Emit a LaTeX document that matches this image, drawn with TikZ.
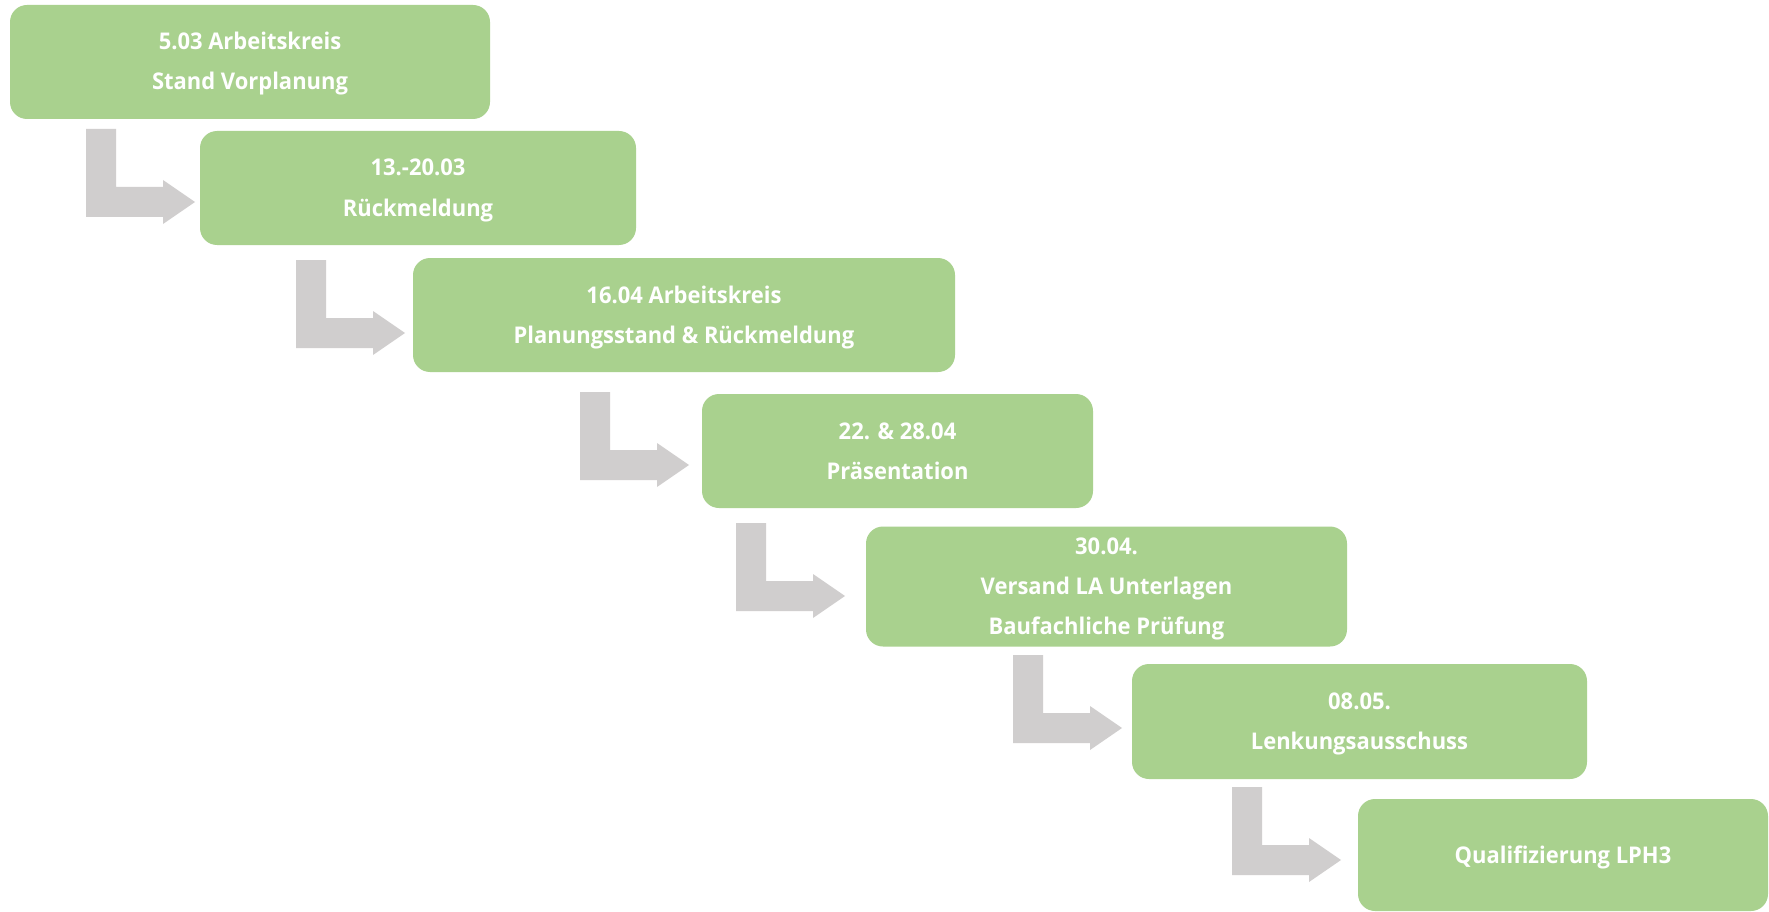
\documentclass[tikz,border=0pt]{standalone}
\usepackage{fontspec}
\setmainfont{Open Sans}[FakeStretch=0.955]
\definecolor{boxgreen}{HTML}{A9D18E}
\definecolor{arrowgray}{HTML}{D0CECE}
\newcommand{\tsTop}{\rule{0pt}{28pt}}
\newcommand{\tsBot}{\rule[-12pt]{0pt}{12pt}}
\tikzset{
  stepbox/.style={fill=boxgreen, rounded corners=17pt, inner sep=0pt, align=center,
    text=white, font=\fontsize{23}{40}\selectfont\bfseries},
  bentarrow/.style={fill=arrowgray}
}
\newcommand{\bentarrowpath}[1]{\fill[bentarrow] (#1) -- ++(30,0) -- ++(0,58) -- ++(47,0) -- ++(0,-7) -- ++(32,22) -- ++(-32,22) -- ++(0,-7) -- ++(-77,0) -- cycle;}
\begin{document}
\begin{tikzpicture}[x=1pt,y=-1pt]
\useasboundingbox (0,0) rectangle (1769,912);
\fill[white] (0,0) rectangle (1769,912);
\node[stepbox, minimum width=480pt, minimum height=114pt] (b1) at (250,62)
  {\tsTop 5.03 Arbeitskreis\\Stand Vorplanung\tsBot};
\node[stepbox, minimum width=436pt, minimum height=114pt] (b2) at (418,188)
  {\tsTop 13.-20.03\\Rückmeldung\tsBot};
\node[stepbox, minimum width=542pt, minimum height=114pt] (b3) at (684,315)
  {\tsTop 16.04 Arbeitskreis\\Planungsstand \& Rückmeldung\tsBot};
\node[stepbox, minimum width=391pt, minimum height=114pt] (b4) at (897.5,451)
  {\tsTop 22. \& 28.04\\Präsentation\tsBot};
\node[stepbox, minimum width=481pt, minimum height=115pt] (b5) at (1106.5,586.5)
  {\tsTop 30.04.\\Versand LA Unterlagen\\Baufachliche Prüfung\tsBot};
\node[stepbox, minimum width=455pt, minimum height=115pt] (b6) at (1359.5,721.5)
  {\tsTop 08.05.\\Lenkungsausschuss\tsBot};
\node[stepbox, minimum width=410pt, minimum height=112pt] (b7) at (1563,855)
  {\tsTop Qualifizierung LPH3\tsBot};
\coordinate (a1) at (86,129);
\coordinate (a2) at (296,260);
\coordinate (a3) at (580,392);
\coordinate (a4) at (736,523);
\coordinate (a5) at (1013,655);
\coordinate (a6) at (1232,787);
\bentarrowpath{a1}
\bentarrowpath{a2}
\bentarrowpath{a3}
\bentarrowpath{a4}
\bentarrowpath{a5}
\bentarrowpath{a6}
\end{tikzpicture}
\end{document}
